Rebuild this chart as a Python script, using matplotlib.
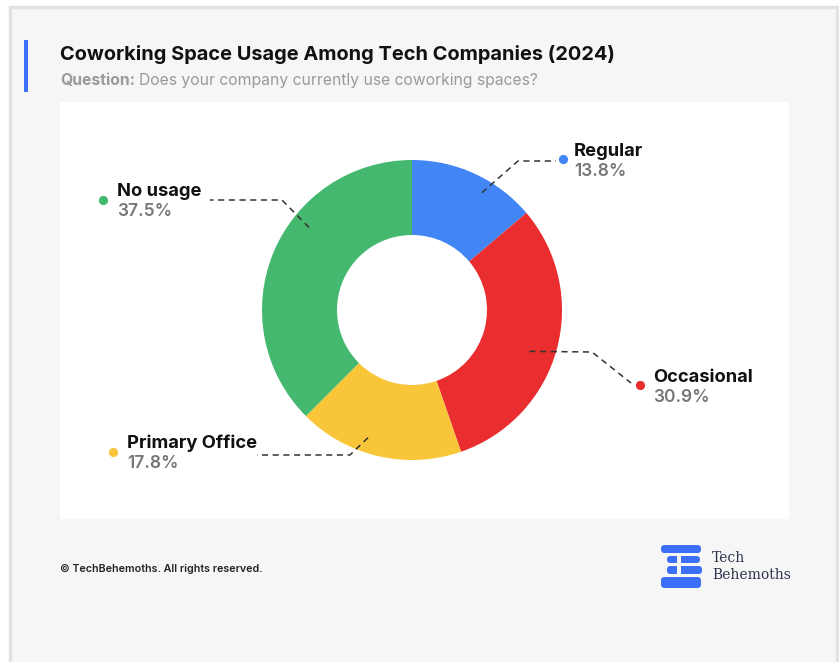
import matplotlib
matplotlib.use("Agg")
import matplotlib.pyplot as plt
from matplotlib.patches import Rectangle, FancyBboxPatch
import numpy as np

# data
categories = ["Regular", "Occasional", "Primary Office", "No usage"]
shares = [13.8, 30.9, 17.8, 37.5]
colors = ["#4285F4", "#EA2E30", "#F9C63A", "#45B870"]

title = "Coworking Space Usage Among Tech Companies (2024)"
question = "Does your company currently use coworking spaces?"

W, H = 839, 662
FONT = ["Inter", "DejaVu Sans"]


def Y(yp):
    # pixel-from-top to axes coordinate
    return H - yp


fig = plt.figure(figsize=(W / 100, H / 100), dpi=100)
ax = fig.add_axes([0, 0, 1, 1])
ax.set_xlim(0, W)
ax.set_ylim(0, H)
ax.axis("off")

# outer card + chart panel
ax.add_patch(Rectangle((10, -10), 827, Y(7) + 10, facecolor="#f6f6f6",
                       edgecolor="#e2e2e2", linewidth=2.5, zorder=0))
ax.add_patch(Rectangle((60, Y(519)), 729, 417, facecolor="white",
                       edgecolor="none", zorder=1))
ax.add_patch(Rectangle((24, Y(92)), 3.5, 52, facecolor="#3b6ff5",
                       edgecolor="none", zorder=2))

ax.text(60, Y(54), title, fontsize=14.4, fontweight="bold", family=FONT,
        color="#111111", va="center", ha="left")
t = ax.text(60, Y(81), "Question:", fontsize=11.3, fontweight="bold",
            family=FONT, color="#9a9a9a", va="center", ha="left")
fig.canvas.draw()
bb = t.get_window_extent().transformed(ax.transData.inverted())
ax.text(bb.x1 + 4, Y(81), question, fontsize=11.3, family=FONT,
        color="#9a9a9a", va="center", ha="left")

# donut
cx, cy, R = 412, Y(310), 150
wedges, _ = ax.pie(shares, colors=colors, startangle=90, counterclock=False,
                   center=(cx, cy), radius=R,
                   wedgeprops=dict(width=75, edgecolor="none"))
for w in wedges:
    w.set_zorder(3)
ax.set_xlim(0, W)
ax.set_ylim(0, H)
ax.set_aspect("auto")

# label layout: start (angle deg, radius frac), elbow, end, dot, text (px from top)
layout = {
    "Regular": dict(ang=59.2, r=0.91, elbow=(518, 161), end=(556, 161),
                    dot=(563, 159), text=(574, 151)),
    "Occasional": dict(ang=-19.4, r=0.83, elbow=(592, 352), end=(631, 383),
                       dot=(640, 385), text=(653, 377)),
    "Primary Office": dict(ang=-109, r=0.90, elbow=(350, 455), end=(257, 455),
                           dot=(113, 452), text=(127, 443)),
    "No usage": dict(ang=141.3, r=0.88, elbow=(282, 200), end=(210, 200),
                     dot=(103, 200), text=(117, 191)),
}

for name, val, col in zip(categories, shares, colors):
    lay = layout[name]
    a = np.deg2rad(lay["ang"])
    sx = cx + lay["r"] * R * np.cos(a)
    sy = cy + lay["r"] * R * np.sin(a)
    ex, ey = lay["elbow"]
    fx, fy = lay["end"]
    ax.plot([sx, ex, fx], [sy, Y(ey), Y(fy)], color="#333333", lw=1.1,
            ls=(0, (4, 3)), zorder=4)
    dx, dy = lay["dot"]
    ax.scatter([dx], [Y(dy)], s=44, color=col, zorder=5, linewidths=0)
    tx, ty = lay["text"]
    ax.text(tx, Y(ty), name, fontsize=13.2, fontweight="bold", family=FONT,
            color="#111111", va="center", ha="left", zorder=5)
    ax.text(tx, Y(ty + 21), f"{val}%", fontsize=12.5, fontweight="semibold",
            family=FONT, color="#777777", va="center", ha="left", zorder=5)

# footer
ax.text(60, Y(569), "\u00a9 TechBehemoths. All rights reserved.", fontsize=7.7,
        fontweight="semibold", family=FONT, color="#222222", va="center",
        ha="left")

# logo
blue = "#3b6ff5"
rows = [(545, 8, 661, 701), (556, 7, 667, 700), (566, 8, 667, 702),
        (577, 11, 661, 701)]
for top, h, x0, x1 in rows:
    ax.add_patch(FancyBboxPatch((x0, Y(top + h)), x1 - x0, h,
                                boxstyle="round,pad=0,rounding_size=3.5",
                                facecolor=blue, edgecolor="none", zorder=2))
# split in the middle rows
for top, h in ((556, 7), (566, 8)):
    ax.add_patch(Rectangle((677, Y(top + h) - 0.5), 4, h + 1,
                           facecolor="#f6f6f6", edgecolor="none", zorder=3))
ax.text(712, Y(558), "Tech", fontsize=10, family="DejaVu Serif",
        color="#2b3448", va="center", ha="left")
ax.text(712, Y(575), "Behemoths", fontsize=10, family="DejaVu Serif",
        color="#2b3448", va="center", ha="left")

fig.savefig("out.png", dpi=100, facecolor="white")
